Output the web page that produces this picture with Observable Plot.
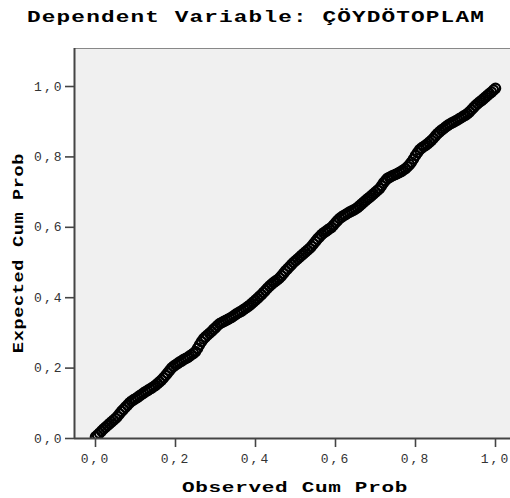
<!DOCTYPE html>
<html>
<head>
<meta charset="utf-8">
<script src="https://cdn.jsdelivr.net/npm/d3@7"></script>
<script src="https://cdn.jsdelivr.net/npm/@observablehq/plot@0.6"></script>
<style>
  html, body { margin: 0; padding: 0; background: #fff; }
  #wrap { position: relative; width: 510px; height: 498px; overflow: hidden; }
  .lbl { position: absolute; font-family: "Liberation Mono", monospace; font-weight: bold; color: #000; white-space: nowrap; }
</style>
</head>
<body>
<div id="wrap"></div>
<script>
const titleText = "Dependent Variable: ÇÖYDÖTOPLAM";
const xLabel = "Observed Cum Prob";
const yLabel = "Expected Cum Prob";
const tickValues = [0, 0.2, 0.4, 0.6, 0.8, 1.0];

const observed = [
  0.00,0.01,0.02,0.03,0.04,0.05,0.06,0.07,0.08,0.09,
  0.10,0.11,0.12,0.13,0.14,0.15,0.16,0.17,0.18,0.19,
  0.20,0.21,0.22,0.23,0.24,0.25,0.26,0.27,0.28,0.29,
  0.30,0.31,0.32,0.33,0.34,0.35,0.36,0.37,0.38,0.39,
  0.40,0.41,0.42,0.43,0.44,0.45,0.46,0.47,0.48,0.49,
  0.50,0.51,0.52,0.53,0.54,0.55,0.56,0.57,0.58,0.59,
  0.60,0.61,0.62,0.63,0.64,0.65,0.66,0.67,0.68,0.69,
  0.70,0.71,0.72,0.73,0.74,0.75,0.76,0.77,0.78,0.79,
  0.80,0.81,0.82,0.83,0.84,0.85,0.86,0.87,0.88,0.89,
  0.90,0.91,0.92,0.93,0.94,0.95,0.96,0.97,0.98,0.99,1.00
];
const expected = [
  0.005,0.015,0.027,0.037,0.047,0.057,0.070,0.083,0.095,0.106,
  0.113,0.121,0.129,0.136,0.143,0.151,0.161,0.172,0.186,0.200,
  0.209,0.217,0.224,0.230,0.238,0.247,0.266,0.283,0.294,0.304,
  0.315,0.326,0.332,0.338,0.344,0.352,0.359,0.366,0.374,0.383,
  0.393,0.404,0.415,0.427,0.438,0.447,0.456,0.469,0.482,0.494,
  0.505,0.515,0.525,0.535,0.546,0.560,0.573,0.584,0.592,0.600,
  0.613,0.625,0.633,0.640,0.646,0.652,0.661,0.671,0.681,0.690,
  0.700,0.710,0.726,0.739,0.745,0.750,0.756,0.763,0.772,0.785,
  0.804,0.820,0.829,0.837,0.847,0.860,0.871,0.880,0.889,0.896,
  0.902,0.909,0.916,0.923,0.934,0.946,0.956,0.965,0.975,0.984,0.995
];
const observedB = [
  0.005,0.015,0.025,0.035,0.045,0.055,0.065,0.075,0.085,0.095,
  0.105,0.115,0.125,0.135,0.145,0.155,0.165,0.175,0.185,0.195,
  0.205,0.215,0.225,0.235,0.245,0.255,0.265,0.275,0.285,0.295,
  0.305,0.315,0.325,0.335,0.345,0.355,0.365,0.375,0.385,0.395,
  0.405,0.415,0.425,0.435,0.445,0.455,0.465,0.475,0.485,0.495,
  0.505,0.515,0.525,0.535,0.545,0.555,0.565,0.575,0.585,0.595,
  0.605,0.615,0.625,0.635,0.645,0.655,0.665,0.675,0.685,0.695,
  0.705,0.715,0.725,0.735,0.745,0.755,0.765,0.775,0.785,0.795,
  0.805,0.815,0.825,0.835,0.845,0.855,0.865,0.875,0.885,0.895,
  0.905,0.915,0.925,0.935,0.945,0.955,0.965,0.975,0.985,0.995
];
const expectedB = [
  0.010,0.021,0.032,0.042,0.052,0.063,0.077,0.089,0.101,0.110,
  0.117,0.125,0.133,0.140,0.147,0.156,0.166,0.179,0.193,0.205,
  0.213,0.220,0.227,0.234,0.242,0.256,0.275,0.289,0.299,0.310,
  0.321,0.329,0.335,0.341,0.348,0.356,0.362,0.370,0.378,0.388,
  0.398,0.409,0.421,0.433,0.443,0.451,0.462,0.476,0.488,0.500,
  0.510,0.520,0.530,0.540,0.553,0.567,0.579,0.588,0.596,0.606,
  0.619,0.629,0.636,0.643,0.649,0.656,0.666,0.676,0.685,0.695,
  0.705,0.718,0.733,0.742,0.748,0.753,0.759,0.767,0.778,0.794,
  0.812,0.825,0.833,0.842,0.853,0.866,0.876,0.885,0.893,0.899,
  0.905,0.912,0.919,0.928,0.940,0.951,0.960,0.970,0.980,0.990
];

const data = observed.map((o, i) => ({obs: o, exp: expected[i]}))
  .concat(observedB.map((o, i) => ({obs: o, exp: expectedB[i]})))
  .sort((a, b) => a.obs - b.obs);
const fmt = d => d.toFixed(1).replace(".", ",");

const xDomain = [-0.0525, 1.0375];
const yDomain = [0, 1.108];

const chart = Plot.plot({
  width: 510,
  height: 498,
  marginTop: 48,
  marginBottom: 60,
  marginLeft: 74,
  marginRight: 0,
  style: {background: "transparent", fontFamily: "Liberation Mono, monospace", fontSize: "13px", color: "#000"},
  x: {domain: xDomain, label: null},
  y: {domain: yDomain, label: null},
  marks: [
    Plot.frame({fill: "#f0f0f0", stroke: null}),
    Plot.ruleY([yDomain[1]], {stroke: "#888", strokeWidth: 1}),
    Plot.axisX(tickValues, {tickSize: 9, tickPadding: 6, tickFormat: fmt, stroke: "#444", strokeWidth: 1.6, fill: "#333", label: null}),
    Plot.axisY(tickValues, {tickSize: 9, tickPadding: 2, tickFormat: fmt, stroke: "#444", strokeWidth: 1.6, fill: "#333", label: null}),
    Plot.dot(data, {x: "obs", y: "exp", r: 4.7, stroke: "#000", strokeWidth: 2.2, fill: "none", clip: true}),
    Plot.ruleX([xDomain[0]], {stroke: "#444", strokeWidth: 2}),
    Plot.ruleY([0], {stroke: "#444", strokeWidth: 2})
  ]
});
d3.select(chart).selectAll("g[aria-label$='tick label'] text").attr("letter-spacing", "2px");
document.getElementById("wrap").appendChild(chart);

const wrap = document.getElementById("wrap");
function addLabel(text, css) {
  const d = document.createElement("div");
  d.className = "lbl";
  d.textContent = text;
  Object.assign(d.style, css);
  wrap.appendChild(d);
  return d;
}
addLabel(titleText, {left: "256px", top: "9px", fontSize: "16px", letterSpacing: "0.8px", transform: "translateX(-50%) scaleX(1.42)"});
addLabel(xLabel, {left: "295px", top: "480px", fontSize: "15px", letterSpacing: "0.5px", transform: "translateX(-50%) scaleX(1.4)"});
addLabel(yLabel, {left: "19px", top: "253px", fontSize: "15px", letterSpacing: "0.5px", transform: "translate(-50%,-50%) rotate(-90deg) scaleX(1.24)"});
</script>
</body>
</html>
